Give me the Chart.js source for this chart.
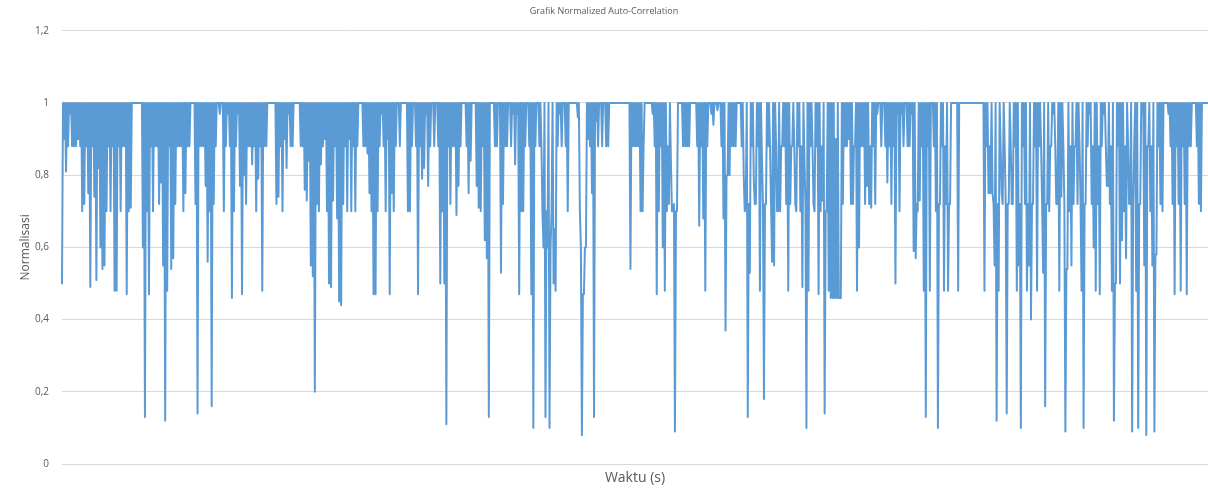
<!DOCTYPE html>
<html lang="id">
<head>
    <meta charset="utf-8">
    <title>Grafik Normalized Auto-Correlation</title>
    <script src="https://cdn.jsdelivr.net/npm/chart.js"></script>
    <style>
        html, body { margin: 0; padding: 0; background: #fff; }
        #wrap { width: 1208px; height: 495px; }
    </style>
</head>
<body>
<div id="wrap">
    <canvas id="acChart"></canvas>
</div>
<script>
    // values, one array per ~97px slice of the plot
    const part1 = [0.5,1, 0.9,1, 0.81,1, 0.88,1, 0.97,1, 0.88,1, 0.88,1, 0.88,1, 0.9,1, 0.88,1, 0.7,1, 0.72,1, 0.88,1, 0.75,1, 0.49,1,
        0.88,1, 0.74,1, 0.51,1, 0.82,1, 0.6,1, 0.54,1, 0.55,1, 0.7,1, 0.88,1, 0.7,1, 0.88,1, 0.48,1, 0.48,1, 0.88,1, 0.7,1,
        0.88,1, 0.88,1, 0.47,1, 0.7,1, 0.71,1, 1,1, 1,1, 1,1, 1,1, 1,1, 0.6,1, 0.13,1, 0.7,1, 0.47,1];
    const part2 = [0.88,1, 0.7,1, 0.88,1, 0.88,1, 0.72,1, 0.78,1, 0.55,1, 0.12,1, 0.48,1, 0.88,1, 0.54,1, 0.57,1, 0.72,1, 0.88,1, 0.88,1, 0.88,1,
        0.7,1, 0.75,1, 0.88,1, 0.88,1, 1,1, 1,1, 0.72,1, 0.14,1, 0.88,1, 0.88,1, 0.88,1, 0.77,1, 0.56,1, 0.7,1, 0.16,1, 0.72,1,
        0.88,1, 1,1, 0.97,1, 1,1, 0.7,1, 0.88,1, 0.97,1, 0.88,1, 0.46,1, 0.7,1, 0.88,1, 0.97,1, 0.77,1, 0.47,1, 0.8,1, 0.72,1];
    const part3 = [0.88,1, 0.88,1, 0.83,1, 0.88,1, 0.7,1, 0.79,1, 0.88,1, 0.48,1, 0.88,1, 0.88,1, 1,1, 1,1, 1,1, 1,1, 0.72,1, 0.74,1,
        0.88,1, 0.7,1, 0.9,1, 0.82,1, 0.97,1, 0.88,1, 0.88,1, 1,1, 1,1, 1,1, 0.88,1, 0.88,1, 0.76,1, 0.73,1, 0.84,1, 0.55,1,
        0.52,1, 0.2,1, 0.72,1, 0.7,1, 0.83,1, 0.88,1, 0.9,1, 0.7,1, 0.5,1, 0.49,1, 0.73,1, 0.88,1, 0.68,1, 0.45,1, 0.44,1, 0.72,1];
    const part4 = [0.88,1, 0.7,1, 0.9,1, 0.7,1, 0.88,1, 0.7,1, 0.88,1, 1,1, 1,1, 0.88,1, 0.88,1, 0.86,1, 0.75,1, 0.7,1, 0.47,1, 0.47,1,
        0.7,1, 0.88,1, 0.97,1, 0.88,1, 0.7,1, 0.9,1, 0.47,1, 0.75,1, 0.7,1, 0.88,1, 1,1, 0.88,1, 1,1, 1,1, 1,1, 0.7,1,
        0.7,1, 0.88,1, 1,1, 0.88,1, 0.47,1, 0.88,1, 0.79,1, 0.82,1, 0.97,1, 0.77,1, 0.88,1, 1,1, 0.88,1, 1,1, 0.88,1, 0.5,1];
    const part5 = [0.7,1, 0.5,1, 0.11,1, 0.88,1, 0.72,1, 0.88,1, 0.88,1, 0.69,1, 0.77,1, 0.88,1, 1,1, 1,1, 0.88,1, 0.75,1, 0.84,1, 1,1,
        1,1, 0.77,1, 0.71,1, 0.7,1, 0.88,1, 0.62,1, 0.57,1, 0.13,1, 1,1, 1,1, 0.88,1, 0.88,1, 1,1, 0.53,1, 0.72,1, 0.88,1,
        0.88,1, 1,1, 0.88,1, 0.97,1, 0.83,1, 0.97,1, 0.47,1, 0.7,1, 0.7,1, 0.88,1, 1,1, 0.88,1, 0.47,1, 0.1,1, 0.88,1, 1,1];
    const part6 = [0.88,1, 0.88,0.7, 0.6,1, 0.13,0.7, 0.6,1, 0.1,0.6, 0.7,1, 0.5,0.65, 0.48,1, 0.88,1, 0.97,1, 0.88,1, 1,1, 0.88,1, 0.7,1, 1,1,
        1,1, 1,1, 1,1, 0.96,1, 0.7,0.6, 0.08,0.47, 0.47,0.6, 0.6,1, 0.9,1, 0.88,1, 0.75,1, 0.13,1, 0.95,1, 0.88,1, 1,1, 0.88,1,
        1,1, 0.88,1, 0.88,1, 1,1, 1,1, 1,1, 1,1, 1,1, 1,1, 1,1, 1,1, 1,1, 1,1, 0.54,1, 0.88,1, 0.88,1];
    const part7 = [0.88,1, 0.88,1, 0.7,1, 0.7,0.88, 1,1, 1,1, 1,1, 1,1, 0.97,1, 0.88,1, 0.47,1, 0.7,1, 0.88,1, 0.6,1, 0.48,1, 0.7,0.88,
        0.72,1, 0.84,0.7, 0.7,0.72, 0.09,0.7, 0.7,1, 1,1, 1,1, 0.88,1, 0.88,1, 0.88,1, 0.88,1, 1,1, 1,1, 1,1, 0.88,1, 0.66,1,
        0.88,1, 0.68,1, 0.48,1, 0.88,1, 1,1, 0.97,1, 0.94,1, 1,1, 0.98,1, 1,1, 0.88,1, 0.68,1, 0.37,0.8, 0.8,1, 0.8,1, 0.88,1];
    const part8 = [0.88,1, 0.88,1, 1,1, 1,1, 0.88,1, 0.8,0.7, 0.72,1, 0.13,0.72, 0.53,1, 0.88,1, 0.78,0.72, 0.72,1, 0.88,1, 0.48,1, 0.85,0.72, 0.18,0.72,
        0.72,1, 0.88,1, 0.88,0.72, 0.56,1, 0.55,1, 0.88,0.7, 0.7,1, 0.7,0.88, 0.88,1, 0.88,1, 0.72,1, 0.48,1, 0.72,0.88, 0.88,1, 0.88,0.72, 0.7,1,
        0.88,1, 0.7,0.88, 0.49,1, 0.85,0.72, 0.1,1, 0.48,1, 0.88,1, 0.88,0.72, 0.7,1, 0.88,1, 0.47,1, 0.7,0.88, 0.73,1, 0.14,0.7, 0.7,1, 0.48,1];
    const part9 = [0.46,1, 0.46,1, 0.46,0.9, 0.46,1, 0.46,0.46, 0.46,1, 0.72,1, 0.88,1, 0.88,1, 0.9,1, 0.72,1, 0.72,0.88, 0.88,1, 0.48,1, 0.6,1, 0.88,1,
        0.88,1, 0.72,1, 0.77,1, 0.72,0.88, 0.71,1, 0.88,1, 0.72,1, 0.97,1, 1,1, 0.88,1, 1,1, 0.88,1, 0.78,1, 0.88,1, 0.72,1, 0.88,1,
        0.5,1, 0.97,1, 0.7,1, 0.97,1, 0.88,1, 1,1, 0.88,1, 0.88,1, 0.97,1, 0.59,1, 0.57,0.72, 0.7,1, 0.73,1, 0.88,1, 0.48,1, 0.13,1];
    const part10 = [0.88,1, 0.48,1, 1,1, 0.88,1, 0.7,1, 0.1,0.72, 0.72,1, 0.88,1, 0.48,0.88, 0.72,1, 0.48,0.72, 0.72,1, 1,1, 1,1, 1,1, 0.48,1,
        1,1, 1,1, 1,1, 1,1, 1,1, 1,1, 1,1, 1,1, 1,1, 1,1, 1,1, 1,1, 0.48,1, 0.88,1, 0.75,0.88, 0.75,1,
        0.75,0.72, 0.55,1, 0.12,0.72, 0.48,1, 0.88,0.75, 0.72,1, 0.88,0.72, 0.14,0.72, 0.72,1, 0.88,0.72, 0.72,1, 0.88,1, 0.48,1, 0.55,0.72, 0.1,1, 0.88,1];
    const part11 = [0.72,1, 0.48,0.72, 0.55,1, 0.4,0.72, 0.72,1, 0.88,1, 0.48,1, 0.88,1, 0.88,0.72, 0.53,1, 0.16,0.72, 0.72,1, 0.7,0.88, 0.88,1, 0.97,1, 0.88,0.72,
        0.72,1, 0.48,1, 0.74,1, 0.88,0.72, 0.09,0.54, 0.54,1, 0.7,0.88, 0.55,1, 0.72,0.88, 0.88,1, 0.72,1, 0.88,0.72, 0.48,1, 0.1,0.72, 0.72,1, 0.88,1,
        0.97,1, 0.72,0.88, 0.6,1, 0.48,1, 0.72,0.88, 0.47,1, 0.88,1, 0.97,1, 0.88,0.77, 0.77,1, 0.72,0.88, 0.48,1, 0.12,0.5, 0.5,1, 0.88,1, 0.5,1];
    const part12 = [0.62,1, 0.7,0.88, 0.57,1, 0.88,0.72, 0.72,1, 0.09,0.72, 0.88,1, 0.48,1, 0.1,0.72, 0.72,1, 0.97,1, 0.55,1, 0.08,0.88, 0.88,1, 0.7,0.88,
        0.55,1, 0.09,0.58, 0.58,1, 0.88,1, 0.72,1, 0.7,1, 1,1, 1,1, 0.97,1, 0.88,1, 0.72,1, 0.47,1, 0.88,1, 0.72,1,
        0.48,1, 0.88,1, 0.72,1, 0.47,1, 0.88,1, 0.88,1, 1,1, 1,1, 0.88,1, 0.72,1, 0.7,1, 1,1, 1,1, 1,1];

    const yTicks = [0, 0.2, 0.4, 0.6, 0.8, 1, 1.2];

    const values = [].concat(part1, part2, part3, part4, part5, part6,
        part7, part8, part9, part10, part11, part12);
    const labels = values.map((v, i) => i + 1);

    const textColor = '#595959';
    const gridColor = '#d9d9d9';
    const fontFamily = '"Open Sans", "Noto Sans", sans-serif';

    new Chart(document.getElementById('acChart'), {
        type: 'line',
        data: {
            labels: labels,
            datasets: [{
                label: 'Normalisasi',
                data: values,
                borderColor: '#5b9bd5',
                backgroundColor: '#5b9bd5',
                borderWidth: 2,
                borderJoinStyle: 'round',
                borderCapStyle: 'round',
                tension: 0,
                pointRadius: 0,
                fill: false,
            }]
        },
        options: {
            responsive: true,
            maintainAspectRatio: false,
            animation: false,
            layout: { padding: 0 },
            plugins: {
                legend: { display: false },
                tooltip: { enabled: false },
                title: {
                    display: true,
                    text: 'Grafik Normalized Auto-Correlation',
                    color: textColor,
                    font: { family: fontFamily, size: 9, weight: 'normal' },
                    padding: { top: 6, bottom: 14 }
                }
            },
            scales: {
                x: {
                    grid: { display: false, drawTicks: false },
                    border: { display: true, color: gridColor },
                    ticks: { display: false },
                    title: {
                        display: true,
                        text: 'Waktu (s)',
                        color: textColor,
                        font: { family: fontFamily, size: 14 },
                        padding: { top: 4, bottom: 9 }
                    },
                    afterFit: function (scale) { scale.height = 31; }
                },
                y: {
                    min: 0,
                    max: 1.2,
                    afterBuildTicks: function (scale) {
                        scale.ticks = yTicks.map(v => ({ value: v }));
                    },
                    grid: { color: gridColor, drawTicks: false },
                    border: { display: false },
                    ticks: {
                        color: textColor,
                        padding: 13,
                        font: { family: fontFamily, size: 10 },
                        callback: function (value) {
                            return String(Number(value.toFixed(1))).replace('.', ',');
                        }
                    },
                    title: {
                        display: true,
                        text: 'Normalisasi',
                        color: textColor,
                        font: { family: fontFamily, size: 12 },
                        padding: { top: 18, bottom: 4 }
                    },
                    afterFit: function (scale) { scale.width = 62; }
                }
            }
        }
    });
</script>
</body>
</html>
